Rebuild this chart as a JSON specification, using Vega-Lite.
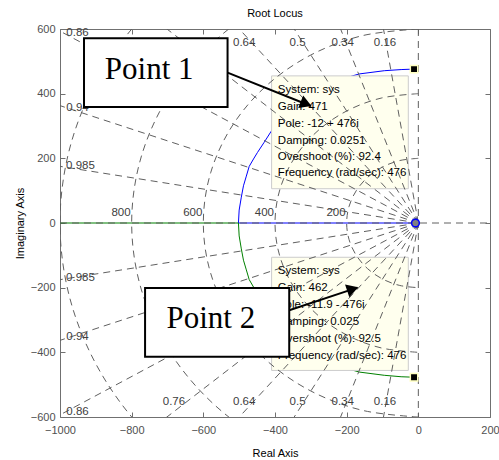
{
  "$schema": "https://vega.github.io/schema/vega-lite/v6.json",
  "width": 430,
  "height": 388,
  "autosize": "none",
  "padding": {"left": 60, "top": 29, "right": 9, "bottom": 43},
  "background": "white",
  "title": {"text": "Root Locus", "font": "Liberation Sans", "fontSize": 11, "fontWeight": "normal", "color": "#000000", "offset": 4},
  "config": {
    "view": {"stroke": "#707070", "strokeWidth": 1},
    "font": "Liberation Sans",
    "axis": {"labelFont": "Liberation Sans", "labelFontSize": 11, "labelColor": "#505050", "tickColor": "#707070", "domain": false, "grid": false, "titleFont": "Liberation Sans", "titleFontSize": 11, "titleFontWeight": "normal", "titleColor": "#000000", "labelFlush": false, "labelOverlap": false, "format": "d"}
  },
  "resolve": {"axis": {"x": "independent", "y": "independent"}},
  "datasets": {
    "locus": [
      {"b": "blue", "i": 0, "x": 0, "y": 0},
      {"b": "blue", "i": 1, "x": -502, "y": 0},
      {"b": "blue", "i": 2, "x": -500, "y": 40},
      {"b": "blue", "i": 3, "x": -494, "y": 80},
      {"b": "blue", "i": 4, "x": -488, "y": 115},
      {"b": "blue", "i": 5, "x": -480, "y": 145},
      {"b": "blue", "i": 6, "x": -472, "y": 175},
      {"b": "blue", "i": 7, "x": -460, "y": 198},
      {"b": "blue", "i": 8, "x": -449, "y": 218},
      {"b": "blue", "i": 9, "x": -430, "y": 250},
      {"b": "blue", "i": 10, "x": -411, "y": 283},
      {"b": "blue", "i": 11, "x": -380, "y": 320},
      {"b": "blue", "i": 12, "x": -340, "y": 362},
      {"b": "blue", "i": 13, "x": -290, "y": 405},
      {"b": "blue", "i": 14, "x": -230, "y": 440},
      {"b": "blue", "i": 15, "x": -165, "y": 461},
      {"b": "blue", "i": 16, "x": -95, "y": 471},
      {"b": "blue", "i": 17, "x": -48, "y": 474.5},
      {"b": "blue", "i": 18, "x": -12, "y": 476},
      {"b": "green", "i": 0, "x": -1000, "y": 0},
      {"b": "green", "i": 1, "x": -502, "y": 0},
      {"b": "green", "i": 2, "x": -500, "y": -40},
      {"b": "green", "i": 3, "x": -494, "y": -80},
      {"b": "green", "i": 4, "x": -488, "y": -115},
      {"b": "green", "i": 5, "x": -480, "y": -145},
      {"b": "green", "i": 6, "x": -472, "y": -175},
      {"b": "green", "i": 7, "x": -460, "y": -198},
      {"b": "green", "i": 8, "x": -449, "y": -218},
      {"b": "green", "i": 9, "x": -430, "y": -250},
      {"b": "green", "i": 10, "x": -411, "y": -283},
      {"b": "green", "i": 11, "x": -380, "y": -320},
      {"b": "green", "i": 12, "x": -340, "y": -362},
      {"b": "green", "i": 13, "x": -290, "y": -405},
      {"b": "green", "i": 14, "x": -230, "y": -440},
      {"b": "green", "i": 15, "x": -165, "y": -461},
      {"b": "green", "i": 16, "x": -95, "y": -471},
      {"b": "green", "i": 17, "x": -48, "y": -475.5},
      {"b": "green", "i": 18, "x": -12, "y": -477}
    ],
    "tipboxes": [
      {"x": -409.5, "x2": -28, "y": 455, "y2": 106},
      {"x": -409.5, "x2": -28, "y": -106, "y2": -456}
    ],
    "grid": [
      {"g": "c200", "i": 0, "x": 0, "y": 200},
      {"g": "c200", "i": 1, "x": -51.8, "y": 193.2},
      {"g": "c200", "i": 2, "x": -100, "y": 173.2},
      {"g": "c200", "i": 3, "x": -141.4, "y": 141.4},
      {"g": "c200", "i": 4, "x": -173.2, "y": 100},
      {"g": "c200", "i": 5, "x": -193.2, "y": 51.8},
      {"g": "c200", "i": 6, "x": -200, "y": 0},
      {"g": "c200", "i": 7, "x": -193.2, "y": -51.8},
      {"g": "c200", "i": 8, "x": -173.2, "y": -100},
      {"g": "c200", "i": 9, "x": -141.4, "y": -141.4},
      {"g": "c200", "i": 10, "x": -100, "y": -173.2},
      {"g": "c200", "i": 11, "x": -51.8, "y": -193.2},
      {"g": "c200", "i": 12, "x": 0, "y": -200},
      {"g": "c400", "i": 0, "x": 0, "y": 400},
      {"g": "c400", "i": 1, "x": -103.5, "y": 386.4},
      {"g": "c400", "i": 2, "x": -200, "y": 346.4},
      {"g": "c400", "i": 3, "x": -282.8, "y": 282.8},
      {"g": "c400", "i": 4, "x": -346.4, "y": 200},
      {"g": "c400", "i": 5, "x": -386.4, "y": 103.5},
      {"g": "c400", "i": 6, "x": -400, "y": 0},
      {"g": "c400", "i": 7, "x": -386.4, "y": -103.5},
      {"g": "c400", "i": 8, "x": -346.4, "y": -200},
      {"g": "c400", "i": 9, "x": -282.8, "y": -282.8},
      {"g": "c400", "i": 10, "x": -200, "y": -346.4},
      {"g": "c400", "i": 11, "x": -103.5, "y": -386.4},
      {"g": "c400", "i": 12, "x": 0, "y": -400},
      {"g": "c600", "i": 0, "x": 0, "y": 600},
      {"g": "c600", "i": 1, "x": -155.3, "y": 579.6},
      {"g": "c600", "i": 2, "x": -300, "y": 519.6},
      {"g": "c600", "i": 3, "x": -424.3, "y": 424.3},
      {"g": "c600", "i": 4, "x": -519.6, "y": 300},
      {"g": "c600", "i": 5, "x": -579.6, "y": 155.3},
      {"g": "c600", "i": 6, "x": -600, "y": 0},
      {"g": "c600", "i": 7, "x": -579.6, "y": -155.3},
      {"g": "c600", "i": 8, "x": -519.6, "y": -300},
      {"g": "c600", "i": 9, "x": -424.3, "y": -424.3},
      {"g": "c600", "i": 10, "x": -300, "y": -519.6},
      {"g": "c600", "i": 11, "x": -155.3, "y": -579.6},
      {"g": "c600", "i": 12, "x": 0, "y": -600},
      {"g": "c800", "i": 0, "x": 0, "y": 800},
      {"g": "c800", "i": 1, "x": -207.1, "y": 772.7},
      {"g": "c800", "i": 2, "x": -400, "y": 692.8},
      {"g": "c800", "i": 3, "x": -565.7, "y": 565.7},
      {"g": "c800", "i": 4, "x": -692.8, "y": 400},
      {"g": "c800", "i": 5, "x": -772.7, "y": 207.1},
      {"g": "c800", "i": 6, "x": -800, "y": 0},
      {"g": "c800", "i": 7, "x": -772.7, "y": -207.1},
      {"g": "c800", "i": 8, "x": -692.8, "y": -400},
      {"g": "c800", "i": 9, "x": -565.7, "y": -565.7},
      {"g": "c800", "i": 10, "x": -400, "y": -692.8},
      {"g": "c800", "i": 11, "x": -207.1, "y": -772.7},
      {"g": "c800", "i": 12, "x": 0, "y": -800},
      {"g": "c1000", "i": 0, "x": 0, "y": 1000},
      {"g": "c1000", "i": 1, "x": -258.8, "y": 965.9},
      {"g": "c1000", "i": 2, "x": -500, "y": 866},
      {"g": "c1000", "i": 3, "x": -707.1, "y": 707.1},
      {"g": "c1000", "i": 4, "x": -866, "y": 500},
      {"g": "c1000", "i": 5, "x": -965.9, "y": 258.8},
      {"g": "c1000", "i": 6, "x": -1000, "y": 0},
      {"g": "c1000", "i": 7, "x": -965.9, "y": -258.8},
      {"g": "c1000", "i": 8, "x": -866, "y": -500},
      {"g": "c1000", "i": 9, "x": -707.1, "y": -707.1},
      {"g": "c1000", "i": 10, "x": -500, "y": -866},
      {"g": "c1000", "i": 11, "x": -258.8, "y": -965.9},
      {"g": "c1000", "i": 12, "x": 0, "y": -1000},
      {"g": "z016u", "i": 0, "x": 0, "y": 0}, {"g": "z016u", "i": 1, "x": -240, "y": 1480.7},
      {"g": "z034u", "i": 0, "x": 0, "y": 0}, {"g": "z034u", "i": 1, "x": -510, "y": 1410.6},
      {"g": "z050u", "i": 0, "x": 0, "y": 0}, {"g": "z050u", "i": 1, "x": -750, "y": 1299},
      {"g": "z064u", "i": 0, "x": 0, "y": 0}, {"g": "z064u", "i": 1, "x": -960, "y": 1152.6},
      {"g": "z076u", "i": 0, "x": 0, "y": 0}, {"g": "z076u", "i": 1, "x": -1140, "y": 974.9},
      {"g": "z086u", "i": 0, "x": 0, "y": 0}, {"g": "z086u", "i": 1, "x": -1290, "y": 765.5},
      {"g": "z094u", "i": 0, "x": 0, "y": 0}, {"g": "z094u", "i": 1, "x": -1410, "y": 511.8},
      {"g": "z0985u", "i": 0, "x": 0, "y": 0}, {"g": "z0985u", "i": 1, "x": -1477.5, "y": 258.9},
      {"g": "z016d", "i": 0, "x": 0, "y": 0}, {"g": "z016d", "i": 1, "x": -240, "y": -1480.7},
      {"g": "z034d", "i": 0, "x": 0, "y": 0}, {"g": "z034d", "i": 1, "x": -510, "y": -1410.6},
      {"g": "z050d", "i": 0, "x": 0, "y": 0}, {"g": "z050d", "i": 1, "x": -750, "y": -1299},
      {"g": "z064d", "i": 0, "x": 0, "y": 0}, {"g": "z064d", "i": 1, "x": -960, "y": -1152.6},
      {"g": "z076d", "i": 0, "x": 0, "y": 0}, {"g": "z076d", "i": 1, "x": -1140, "y": -974.9},
      {"g": "z086d", "i": 0, "x": 0, "y": 0}, {"g": "z086d", "i": 1, "x": -1290, "y": -765.5},
      {"g": "z094d", "i": 0, "x": 0, "y": 0}, {"g": "z094d", "i": 1, "x": -1410, "y": -511.8},
      {"g": "z0985d", "i": 0, "x": 0, "y": 0}, {"g": "z0985d", "i": 1, "x": -1477.5, "y": -258.9},
      {"g": "axh", "i": 0, "x": -1000, "y": 0}, {"g": "axh", "i": 1, "x": 200, "y": 0},
      {"g": "axv", "i": 0, "x": 0, "y": 600}, {"g": "axv", "i": 1, "x": 0, "y": -600}
    ],
    "zlabels": [
      {"x": -93, "y": 557, "t": "0.16"},
      {"x": -211, "y": 557, "t": "0.34"},
      {"x": -337, "y": 557, "t": "0.5"},
      {"x": -486, "y": 557, "t": "0.64"},
      {"x": -682, "y": 557, "t": "0.76"},
      {"x": -951, "y": 587, "t": "0.86"},
      {"x": -951, "y": 357, "t": "0.94"},
      {"x": -943, "y": 175, "t": "0.985"},
      {"x": -943, "y": -170, "t": "0.985"},
      {"x": -951, "y": -353, "t": "0.94"},
      {"x": -951, "y": -584, "t": "0.86"},
      {"x": -682, "y": -554, "t": "0.76"},
      {"x": -486, "y": -554, "t": "0.64"},
      {"x": -337, "y": -554, "t": "0.5"},
      {"x": -211, "y": -554, "t": "0.34"},
      {"x": -93, "y": -554, "t": "0.16"}
    ],
    "wlabels": [
      {"x": -800, "y": 31, "t": "800"},
      {"x": -600, "y": 31, "t": "600"},
      {"x": -400, "y": 31, "t": "400"},
      {"x": -200, "y": 31, "t": "200"}
    ],
    "tiptext": [
      {"x": -392, "y": 412, "t": "System: sys"},
      {"x": -392, "y": 360, "t": "Gain: 471"},
      {"x": -392, "y": 307, "t": "Pole: -12 + 476i"},
      {"x": -392, "y": 255, "t": "Damping: 0.0251"},
      {"x": -392, "y": 205, "t": "Overshoot (%): 92.4"},
      {"x": -392, "y": 154, "t": "Frequency (rad/sec): 476"},
      {"x": -392, "y": -149.5, "t": "System: sys"},
      {"x": -392, "y": -201, "t": "Gain: 462"},
      {"x": -392, "y": -255, "t": "Pole: -11.9 - 476i"},
      {"x": -392, "y": -307.5, "t": "Damping: 0.025"},
      {"x": -392, "y": -358, "t": "Overshoot (%): 92.5"},
      {"x": -392, "y": -410, "t": "Frequency (rad/sec): 476"}
    ],
    "squares": [
      {"x": -12, "y": 476},
      {"x": -12, "y": -477}
    ],
    "origin": [
      {"x": -8, "y": 0}
    ],
    "pboxes": [
      {"x": -933, "x2": -532.4, "y": 571.5, "y2": 358.4},
      {"x": -762.6, "x2": -360.3, "y": -200.8, "y2": -414}
    ],
    "ptext": [
      {"x": -751, "y": 472, "t": "Point 1"},
      {"x": -579, "y": -296, "t": "Point 2"}
    ],
    "arrows": [
      {"a": 1, "i": 0, "x": -532.4, "y": 465},
      {"a": 1, "i": 1, "x": -300, "y": 362},
      {"a": 2, "i": 0, "x": -360.3, "y": -270},
      {"a": 2, "i": 1, "x": -170, "y": -200}
    ],
    "heads": [
      {"x": -313.2, "y": 368.5, "ang": 21.8},
      {"x": -183.2, "y": -204.5, "ang": 341.5}
    ]
  },
  "encoding": {
    "x": {"field": "x", "type": "quantitative", "scale": {"domain": [-1000, 200], "nice": false, "zero": false}, "axis": null},
    "y": {"field": "y", "type": "quantitative", "scale": {"domain": [-600, 600], "nice": false, "zero": false}, "axis": null}
  },
  "layer": [
    {
      "data": {"name": "locus"},
      "mark": {"type": "line", "strokeWidth": 1},
      "encoding": {
        "x": {"field": "x", "type": "quantitative", "scale": {"domain": [-1000, 200], "nice": false, "zero": false},
              "axis": {"orient": "bottom", "values": [-1000, -800, -600, -400, -200, 0, 200], "tickSize": -5, "labelPadding": 12, "title": "Real Axis", "titlePadding": 12}},
        "y": {"field": "y", "type": "quantitative", "scale": {"domain": [-600, 600], "nice": false, "zero": false},
              "axis": {"orient": "left", "values": [-600, -400, -200, 0, 200, 400, 600], "tickSize": -5, "labelPadding": 10, "title": "Imaginary Axis", "titlePadding": 5}},
        "color": {"field": "b", "type": "nominal", "scale": {"domain": ["blue", "green"], "range": ["#0000FF", "#008000"]}, "legend": null},
        "order": {"field": "i", "type": "quantitative"}
      }
    },
    {
      "data": {"name": "tipboxes"},
      "mark": {"type": "rect", "fill": "#FFFFEE", "stroke": "#CCCCCC", "strokeWidth": 1},
      "encoding": {
        "x2": {"field": "x2"},
        "y2": {"field": "y2"}
      }
    },
    {
      "data": {"name": "grid"},
      "mark": {"type": "line", "clip": true, "color": "#606060", "strokeWidth": 1, "strokeDash": [7, 5], "interpolate": "cardinal"},
      "encoding": {
        "x": {"field": "x", "type": "quantitative", "scale": {"domain": [-1000, 200], "nice": false, "zero": false},
              "axis": {"orient": "top", "values": [-1000, -800, -600, -400, -200, 0, 200], "tickSize": -5, "labels": false, "title": null}},
        "y": {"field": "y", "type": "quantitative", "scale": {"domain": [-600, 600], "nice": false, "zero": false},
              "axis": {"orient": "right", "values": [-600, -400, -200, 0, 200, 400, 600], "tickSize": -5, "labels": false, "title": null}},
        "detail": {"field": "g", "type": "nominal"},
        "order": {"field": "i", "type": "quantitative"}
      }
    },
    {
      "data": {"name": "zlabels"},
      "mark": {"type": "text", "font": "Liberation Sans", "fontSize": 11.5, "color": "#404040", "align": "center", "baseline": "middle"},
      "encoding": {"text": {"field": "t"}}
    },
    {
      "data": {"name": "wlabels"},
      "mark": {"type": "text", "font": "Liberation Sans", "fontSize": 11.5, "color": "#404040", "align": "right", "baseline": "middle", "dx": -1},
      "encoding": {"text": {"field": "t"}}
    },
    {
      "data": {"name": "tiptext"},
      "mark": {"type": "text", "font": "Liberation Sans", "fontSize": 11.5, "color": "#000000", "align": "left", "baseline": "middle"},
      "encoding": {"text": {"field": "t"}}
    },
    {
      "data": {"name": "origin"},
      "mark": {"type": "point", "shape": "circle", "size": 60, "filled": false, "stroke": "#0000FF", "fill": "#808080", "fillOpacity": 1, "strokeWidth": 1.5}
    },
    {
      "data": {"name": "squares"},
      "mark": {"type": "point", "shape": "square", "size": 55, "filled": true, "color": "#000000", "stroke": "#FFFFC0", "strokeWidth": 1.5, "opacity": 1}
    },
    {
      "data": {"name": "pboxes"},
      "mark": {"type": "rect", "fill": "#FFFFFF", "stroke": "#000000", "strokeWidth": 2},
      "encoding": {
        "x2": {"field": "x2"},
        "y2": {"field": "y2"}
      }
    },
    {
      "data": {"name": "ptext"},
      "mark": {"type": "text", "font": "Liberation Serif", "fontSize": 31, "color": "#000000", "align": "center", "baseline": "middle"},
      "encoding": {"text": {"field": "t"}}
    },
    {
      "data": {"name": "arrows"},
      "mark": {"type": "line", "color": "#000000", "strokeWidth": 2},
      "encoding": {
        "detail": {"field": "a", "type": "nominal"},
        "order": {"field": "i", "type": "quantitative"}
      }
    },
    {
      "data": {"name": "heads"},
      "mark": {"type": "point", "shape": "triangle-right", "size": 180, "filled": true, "color": "#000000", "opacity": 1},
      "encoding": {
        "angle": {"field": "ang", "type": "quantitative", "scale": null}
      }
    }
  ]
}
